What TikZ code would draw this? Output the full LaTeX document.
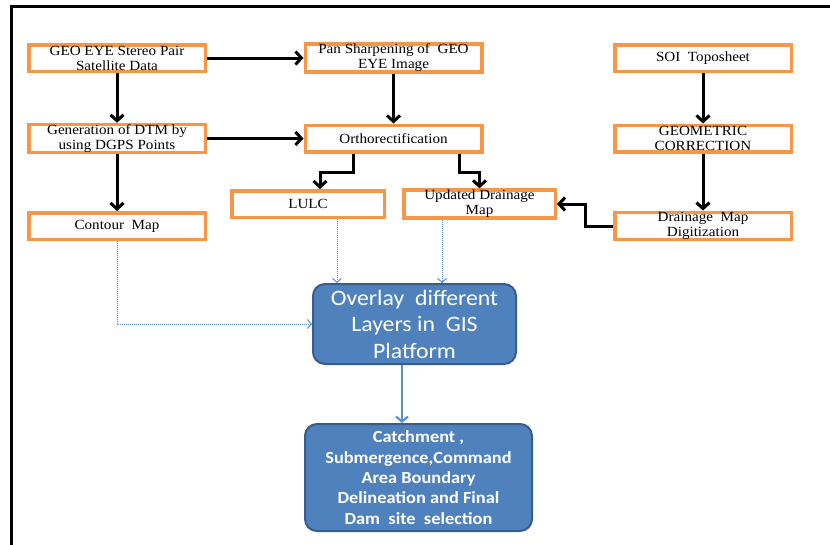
\documentclass[tikz,border=0pt]{standalone}
\usepackage{fontspec}
\setmainfont{Liberation Serif}[FakeStretch=1.08]
\newfontfamily\calibri{Carlito}[FakeStretch=1.08]
\usetikzlibrary{arrows.meta}

\definecolor{boxorange}{HTML}{F79646}
\definecolor{gisblue}{HTML}{4F81BD}
\definecolor{gisedge}{HTML}{385D8A}
\definecolor{feedblue}{HTML}{5B8FD5}

\tikzset{
	stepbox/.style={draw=boxorange, line width=3.5pt, fill=white,
		minimum width=176.5pt, minimum height=26.5pt, inner sep=0pt,
		align=center, font=\fontsize{14}{15}\selectfont},
	gisbox/.style={draw=gisedge, line width=2pt, fill=gisblue,
		rounded corners=12pt, inner sep=0pt, align=center, text=white},
	flow/.style={line width=3pt, -{Straight Barb[length=6pt,width=13pt]}},
	feed/.style={feedblue, line width=1pt, densely dotted,
		-{Straight Barb[length=4pt,width=9pt]}},
	mainflow/.style={feedblue, line width=2.2pt,
		-{Straight Barb[length=5pt,width=12pt]}},
}

\begin{document}
\begin{tikzpicture}[x=1pt,y=-1pt]
\useasboundingbox (0,0) rectangle (830,544);

%Frame
\draw[line width=3pt] (11,560) -- (11,6) -- (850,6);

%Left column
\node [stepbox]  (geo)at (117,58) {GEO EYE Stereo Pair\\Satellite Data};
\node [stepbox]  (dtm)at (117,138.5) {Generation of DTM by\\using DGPS Points};
\node [stepbox]  (contour)at (117,226) {Contour \ Map};

%Middle column
\node [stepbox]  (pan)at (393.5,58) {Pan Sharpening of \ GEO\\EYE Image};
\node [stepbox]  (ortho)at (393.5,138.5) {Orthorectification};
\node [stepbox,minimum width=152.5pt]  (lulc)at (308,204) {LULC};
\node [stepbox,minimum width=151.5pt]  (upd)at (479.5,204) {Updated Drainage\\Map};

%Right column
\node [stepbox]  (soi)at (703,58) {SOI \ Toposheet};
\node [stepbox]  (geom)at (703,138.5) {GEOMETRIC\\CORRECTION};
\node [stepbox]  (dig)at (703,226) {Drainage \ Map\\Digitization};

%GIS
\node [gisbox,
	minimum width=203pt,
	minimum height=80pt,
	font=\calibri\fontsize{22}{26.5}\selectfont,
]  (overlay)at (414.5,324) {Overlay \ different\\Layers in \ GIS\\Platform};
\node [gisbox,
	minimum width=227pt,
	minimum height=107pt,
	font=\calibri\bfseries\fontsize{17}{20.3}\selectfont,
]  (final)at (418.5,477.5) {Catchment ,\\Submergence,Command\\Area Boundary\\Delineation and Final\\Dam \ site \ selection};

%Black connectors
\draw[flow] (geo.east) -- (pan.west);
\draw[flow] (geo.south) -- (dtm.north);
\draw[flow] (dtm.east) -- (ortho.west);
\draw[flow] (dtm.south) -- (contour.north);
\draw[flow] (pan.south) -- (ortho.north);
\draw[flow] (soi.south) -- (geom.north);
\draw[flow] (geom.south) -- (dig.north);

\coordinate (ol1) at (353,172);
\coordinate (ol2) at (320,172);
\draw[flow] (ortho.south -| ol1) -- (ol1) -- (ol2) -- (ol2 |- lulc.north);

\coordinate (ou1) at (459,172);
\draw[flow] (ortho.south -| ou1) -- (ou1) -| (upd.north);

\coordinate (dj) at (585,226);
\draw[flow] (dig.west) -- (dj) |- (upd.east);

%Blue connectors
\draw[feed] (contour.south) |- (overlay.west);
\coordinate (lx) at (337,0);
\draw[feed] (lulc.south -| lx) -- (overlay.north -| lx);
\coordinate (ux) at (442,0);
\draw[feed] (upd.south -| ux) -- (overlay.north -| ux);
\coordinate (fx) at (402,0);
\draw[mainflow] (overlay.south -| fx) -- (final.north -| fx);

\end{tikzpicture}
\end{document}
